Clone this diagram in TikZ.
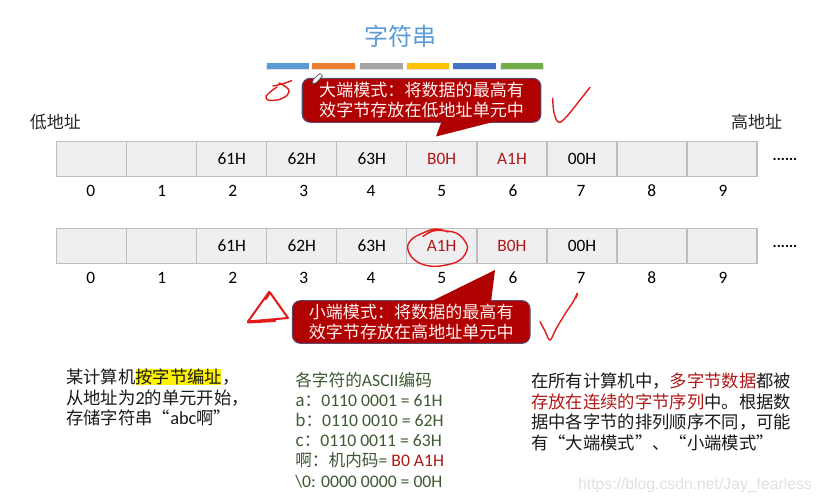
\documentclass[tikz,border=0pt]{standalone}
\usepackage{fontspec}
\setmainfont{Noto Sans CJK SC}
\newfontfamily\lat{Carlito}
\newfontfamily\latb[Scale=1.06]{Carlito}
\newfontfamily\wmk{Liberation Sans}
\definecolor{cellfill}{HTML}{EFEFF2}
\definecolor{cellline}{HTML}{BDBDBD}
\definecolor{calloutred}{HTML}{B00000}
\definecolor{calloutline}{HTML}{5A4A6E}
\definecolor{hired}{HTML}{B01818}
\definecolor{codegreen}{HTML}{3F5A33}
\definecolor{inkred}{HTML}{E21A1A}
\definecolor{titleblue}{HTML}{5B9BD5}
\tikzset{
  x=0.75pt,y=-0.75pt,
  cell/.style={draw=cellline,fill=cellfill,line width=1pt,minimum width=52.6pt,minimum height=26.4pt,inner sep=0pt,text=black,font=\lat\fontsize{13}{15}\selectfont},
  idx/.style={inner sep=0pt,text=black,font=\lat\fontsize{13}{15}\selectfont},
  side/.style={inner sep=0pt,text=black!85,font=\fontsize{12.75}{15}\selectfont},
  callout/.style={draw=calloutline,fill=calloutred,line width=0.8pt,rounded corners=6pt,inner sep=0pt,text=white!95!red,align=center,font=\fontsize{12.8}{15}\selectfont},
  tip/.style={fill=calloutred,draw=none},
  bar/.style={draw=none,minimum height=4.3pt,inner sep=0pt},
  para/.style={inner sep=0pt,anchor=north west,align=left,text=black!90},
  ink/.style={draw=inkred,line width=1.05pt,line cap=round,line join=round},
  dots/.style={inner sep=0pt,text=black,font=\lat\bfseries\fontsize{11.5}{12}\selectfont}
}
\begin{document}
\begin{tikzpicture}
\useasboundingbox (0,0) rectangle (822,503);
\fill[white] (0,0) rectangle (822,503);

% title and colour bars
\node[inner sep=0pt,text=titleblue,font=\fontsize{18}{22}\selectfont] (title) at (400,36) {字符串};
\fill[black!12] (266,65) rectangle (544,70.5);
\fill[white] (309,64) rectangle (311.5,71) (355.5,64) rectangle (359.5,71) (403,64) rectangle (406.5,71) (449,64) rectangle (452.5,71) (496,64) rectangle (500,71);
\foreach \n/\a/\w/\c in {b1/288/41.7/5B9BD5,b2/333.6/42.7/ED7D31,b3/381.3/42.7/A5A5A5,b4/427.8/41.7/FFC000,b5/474.3/42.7/4472C4,b6/521.7/42/70AD47}{
  \definecolor{barc}{HTML}{\c}
  \node[bar,fill=barc,minimum width=\w*0.75pt] (\n) at (\a,66.2) {};
}

% side labels
\node[side] (low) at (55.5,122) {低地址};
\node[side] (high) at (756.5,122) {高地址};

% rows
\foreach \i/\x/\t in {0/91.3/,1/161.7/,2/231.7/61H,3/301.7/62H,4/371.7/63H,7/582/00H,8/652/,9/722/}{
  \node[cell] (a\i) at (\x,158.8) {\t};
  \node[cell] (c\i) at (\x,246) {\t};
}
\node[cell,text=hired] (a5) at (441.7,158.8) {B0H};
\node[cell,text=hired] (a6) at (512,158.8) {A1H};
\node[cell,text=hired] (c5) at (441.7,246) {A1H};
\node[cell,text=hired] (c6) at (512,246) {B0H};

\foreach \i/\x in {0/90.7,1/161.7,2/232.7,3/303.7,4/371,5/441.7,6/513,7/581,8/651.7,9/723}{
  \node[idx] (na\i) at (\x,190.7) {\i};
  \node[idx] (nc\i) at (\x,278) {\i};
}
\node[dots] (da) at (785,159.5) {......};
\node[dots] (dc) at (785,246.5) {......};

% callouts
\node[callout,minimum width=179pt,minimum height=33pt] (big) at (421.6,100.3) {大端模式：将数据的最高有\\效字节存放在低地址单元中};
\fill[tip] (441.7,121) -- (436,136.5) -- (497,121) -- cycle;
\node[callout,minimum width=178.2pt,minimum height=32pt] (small) at (411.2,322) {小端模式：将数据的最高有\\效字节存放在高地址单元中};
\fill[tip] (430,302) -- (495,270) -- (491,302) -- cycle;

% left text
\fill[yellow] (136,369) rectangle (221,385);
\node[para,font=\fontsize{13}{15.2}\selectfont] (left) at (66,369) {某计算机按字节编址，\\从地址为{\latb 2}的单元开始，\\存储字符串“{\latb abc}啊”};

% ascii table
\node[para,text=codegreen,font=\fontsize{12.5}{15.1}\selectfont] (ascii) at (295,372) {各字符的{\latb ASCII}编码\\
a：{\latb 0110 0001 = 61H}\\
b：{\latb 0110 0010 = 62H}\\
c：{\latb 0110 0011 = 63H}\\
啊：机内码{\latb = \textcolor{hired}{B0 A1H}}\\
{\latb \textbackslash 0: 0000 0000 = 00H}};

% right text
\node[para,font=\fontsize{13}{15.5}\selectfont] (right) at (531,372.5) {在所有计算机中，\textcolor{hired}{多字节数据}都被\\
\textcolor{hired}{存放在连续的字节序列}中。根据数\\
据中各字节的排列顺序不同，可能\\
有“大端模式”、“小端模式”};

% watermark
\node[inner sep=0pt,text=black!12,font=\wmk\fontsize{11.8}{14}\selectfont] (wm) at (695,485) {https://blog.csdn.net/Jay\_fearless};

% pen cursor
\draw[fill=white,draw=black!70,line width=0.5pt] (312,84) -- (313.5,79) -- (320,73.5) -- (322.5,76) -- (316.5,82.5) -- cycle;

% handwriting
\draw[ink] plot[smooth,tension=0.7] coordinates {(291.7,80.7) (282,84) (273,86)};
\draw[ink] plot[smooth,tension=0.8] coordinates {(279,83) (286,87) (289,92) (283,98) (272,100.5) (266,98) (269,93) (277,87)};
\draw[ink] plot[smooth,tension=0.6] coordinates {(552.7,98.3) (553.5,110) (556,119) (560,122.3) (568,115) (580,100) (590,87.3)};
\draw[ink] plot[smooth,tension=0.6] coordinates {(540,321.7) (545,331) (550,340) (556,329) (565,314) (573,302) (577.3,293.3) (576,298)};
\draw[ink,line width=1.5pt] (269.3,291.7) -- (248,321.5) -- (288,318) -- (270,292.5) -- (266,299) (248,322.5) -- (275,321);
\draw[ink] plot[smooth,tension=0.7] coordinates {(423,236.5) (433,231) (446,231) (458,234) (466,243) (467,250) (460,260) (446,265) (430,266) (416,261) (408,250) (411,240) (423,233) (436,229) (448,232)};
\end{tikzpicture}
\end{document}
